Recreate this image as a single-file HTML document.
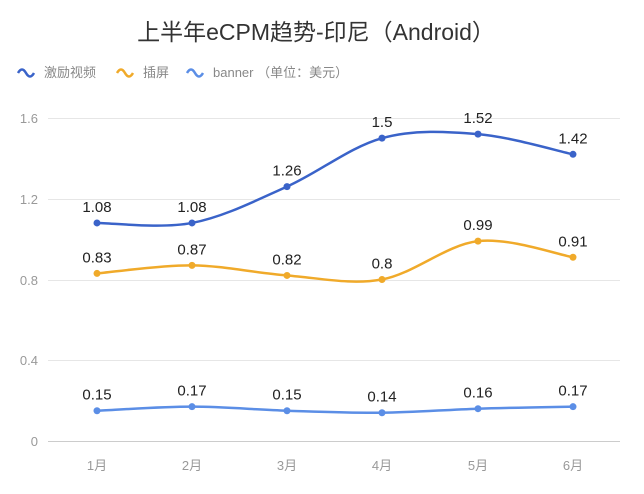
<!DOCTYPE html>
<html><head><meta charset="utf-8"><style>
body{margin:0;background:#fff;width:644px;height:489px;overflow:hidden}
svg text{font-family:"Liberation Sans","Noto Sans CJK SC",sans-serif}
</style></head><body>
<svg id="s" width="644" height="489" xmlns="http://www.w3.org/2000/svg">
<text x="316" y="40" text-anchor="middle" font-size="23" fill="#333">上半年eCPM趋势-印尼（Android）</text>
<g font-size="13" fill="#888">
<path d="M18 73 q4 -7 8 0 t8 0" stroke="#3a63c9" stroke-width="2.5" fill="none"/>
<text x="44" y="77">激励视频</text>
<path d="M117 73 q4 -7 8 0 t8 0" stroke="#f0aa2a" stroke-width="2.5" fill="none"/>
<text x="143" y="77">插屏</text>
<path d="M187 73 q4 -7 8 0 t8 0" stroke="#5b8ee6" stroke-width="2.5" fill="none"/>
<text x="213" y="77">banner （单位：美元）</text>
</g>
<g stroke="#e6e6e6" stroke-width="1">
<line x1="48" x2="620" y1="118.5" y2="118.5"/>
<line x1="48" x2="620" y1="199.5" y2="199.5"/>
<line x1="48" x2="620" y1="280.5" y2="280.5"/>
<line x1="48" x2="620" y1="360.5" y2="360.5"/>
<line x1="48" x2="620" y1="441.5" y2="441.5" stroke="#ccc"/>
</g>
<g font-size="13" fill="#999" text-anchor="end">
<text x="38" y="123">1.6</text><text x="38" y="204">1.2</text><text x="38" y="285">0.8</text><text x="38" y="365">0.4</text><text x="38" y="446">0</text>
</g>
<g id="g"></g>
</svg>
<script>
var X=[97,192,287,382,478,573];
function Y(v){return 441-v*201.9}
var S=[[[1.08,1.08,1.26,1.5,1.52,1.42],"#3a63c9"],[[0.83,0.87,0.82,0.8,0.99,0.91],"#f0aa2a"],[[0.15,0.17,0.15,0.14,0.16,0.17],"#5b8ee6"]];
var h="";
S.forEach(function(s){var v=s[0],c=s[1];var P=v.map(function(a,i){return[X[i],Y(a)]});
var d="M"+P[0][0]+" "+P[0][1];
for(var i=0;i<5;i++){var p0=P[Math.max(i-1,0)],p1=P[i],p2=P[i+1],p3=P[Math.min(i+2,5)];
d+=" C"+(p1[0]+(p2[0]-p0[0])/6)+" "+(p1[1]+(p2[1]-p0[1])/6)+" "+(p2[0]-(p3[0]-p1[0])/6)+" "+(p2[1]-(p3[1]-p1[1])/6)+" "+p2[0]+" "+p2[1];}
h+='<path d="'+d+'" stroke="'+c+'" stroke-width="2.5" fill="none"/>';
P.forEach(function(p,i){h+='<circle cx="'+p[0]+'" cy="'+p[1]+'" r="3.5" fill="'+c+'"/>';
h+='<text x="'+p[0]+'" y="'+(p[1]-11)+'" text-anchor="middle" font-size="15" fill="#222">'+v[i]+'</text>';});});
["1月","2月","3月","4月","5月","6月"].forEach(function(t,i){h+='<text x="'+X[i]+'" y="470" text-anchor="middle" font-size="13" fill="#999">'+t+'</text>';});
document.getElementById("g").innerHTML=h;
</script>
</body></html>
